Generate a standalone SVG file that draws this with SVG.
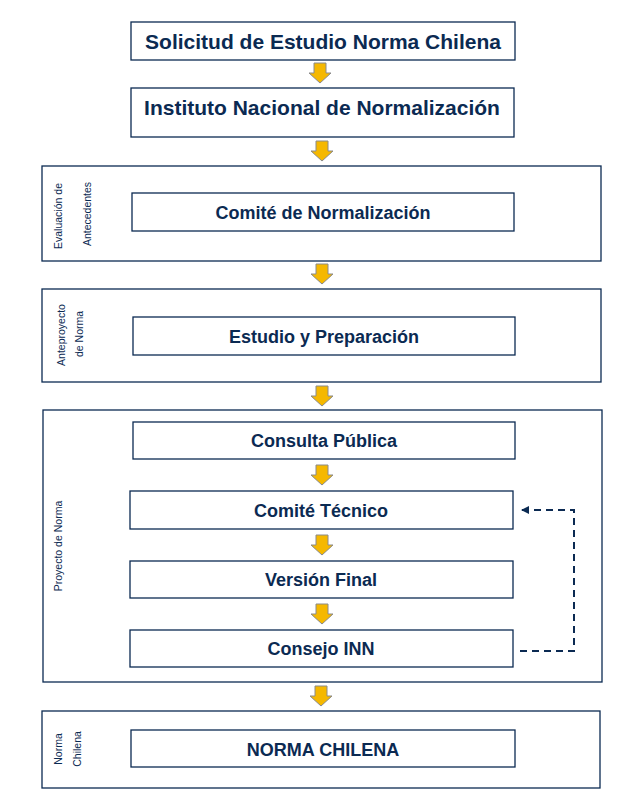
<svg xmlns="http://www.w3.org/2000/svg" width="633" height="807" viewBox="0 0 633 807">
<style>
.b{fill:#fff;stroke:#0b2a52;stroke-width:1.3}
.t{font-family:"Liberation Sans",Arial,sans-serif;font-weight:bold;fill:#0b2a52;text-anchor:middle}
.s{font-family:"Liberation Sans",Arial,sans-serif;font-size:10.5px;fill:#0b2a52;text-anchor:middle}
.a{fill:#f5b800;stroke:#8a8a8a;stroke-width:1}
</style>
<defs>
<path id="arr" class="a" d="M-6,0 H6 V10 H11 L0,20 L-11,10 H-6 Z"/>
<marker id="m" markerWidth="8" markerHeight="8" refX="7" refY="4" orient="auto" markerUnits="userSpaceOnUse"><path d="M0,0 L8,4 L0,8 Z" fill="#0b2a52"/></marker>
</defs>
<rect width="633" height="807" fill="#fff"/>
<g id="groups">
<rect class="b" x="42" y="166" width="559" height="95"/>
<rect class="b" x="42" y="289" width="559" height="93"/>
<rect class="b" x="43" y="410" width="559" height="272"/>
<rect class="b" x="42" y="711" width="558" height="77"/>
<text class="s" transform="translate(62,216) rotate(-90)">Evaluación de</text>
<text class="s" transform="translate(91,214) rotate(-90)">Antecedentes</text>
<text class="s" transform="translate(65,335) rotate(-90)">Anteproyecto</text>
<text class="s" transform="translate(83,334) rotate(-90)">de Norma</text>
<text class="s" transform="translate(62,546) rotate(-90)">Proyecto de Norma</text>
<text class="s" transform="translate(62,749) rotate(-90)">Norma</text>
<text class="s" transform="translate(81,749) rotate(-90)">Chilena</text>
</g>
<g id="n1"><rect class="b" x="131" y="22" width="384" height="38"/><text class="t" x="323" y="49" font-size="21">Solicitud de Estudio Norma Chilena</text></g>
<g id="n2"><rect class="b" x="131" y="88" width="383" height="49"/><text class="t" x="322" y="115" font-size="21">Instituto Nacional de Normalización</text></g>
<g id="n3"><rect class="b" x="132" y="193" width="382" height="38"/><text class="t" x="323" y="219" font-size="18">Comité de Normalización</text></g>
<g id="n4"><rect class="b" x="133" y="317" width="382" height="38"/><text class="t" x="324" y="343" font-size="18">Estudio y Preparación</text></g>
<g id="n5"><rect class="b" x="133" y="422" width="382" height="37"/><text class="t" x="324" y="447" font-size="18">Consulta Pública</text></g>
<g id="n6"><rect class="b" x="130" y="491" width="383" height="38"/><text class="t" x="321" y="517" font-size="18">Comité Técnico</text></g>
<g id="n7"><rect class="b" x="130" y="561" width="383" height="37"/><text class="t" x="321" y="586" font-size="18">Versión Final</text></g>
<g id="n8"><rect class="b" x="130" y="630" width="383" height="37"/><text class="t" x="321" y="655" font-size="18">Consejo INN</text></g>
<g id="n9"><rect class="b" x="131" y="730" width="384" height="37"/><text class="t" x="323" y="756" font-size="18">NORMA CHILENA</text></g>
<g id="connectors">
<use href="#arr" x="320" y="63"/>
<use href="#arr" x="322" y="141"/>
<use href="#arr" x="322" y="264"/>
<use href="#arr" x="322" y="386"/>
<use href="#arr" x="322" y="465"/>
<use href="#arr" x="322" y="535"/>
<use href="#arr" x="322" y="604"/>
<use href="#arr" x="321" y="686"/>
<path d="M520,651 H574 V510 H522" fill="none" stroke="#0b2a52" stroke-width="2" stroke-dasharray="7,5" marker-end="url(#m)"/>
</g>
</svg>
